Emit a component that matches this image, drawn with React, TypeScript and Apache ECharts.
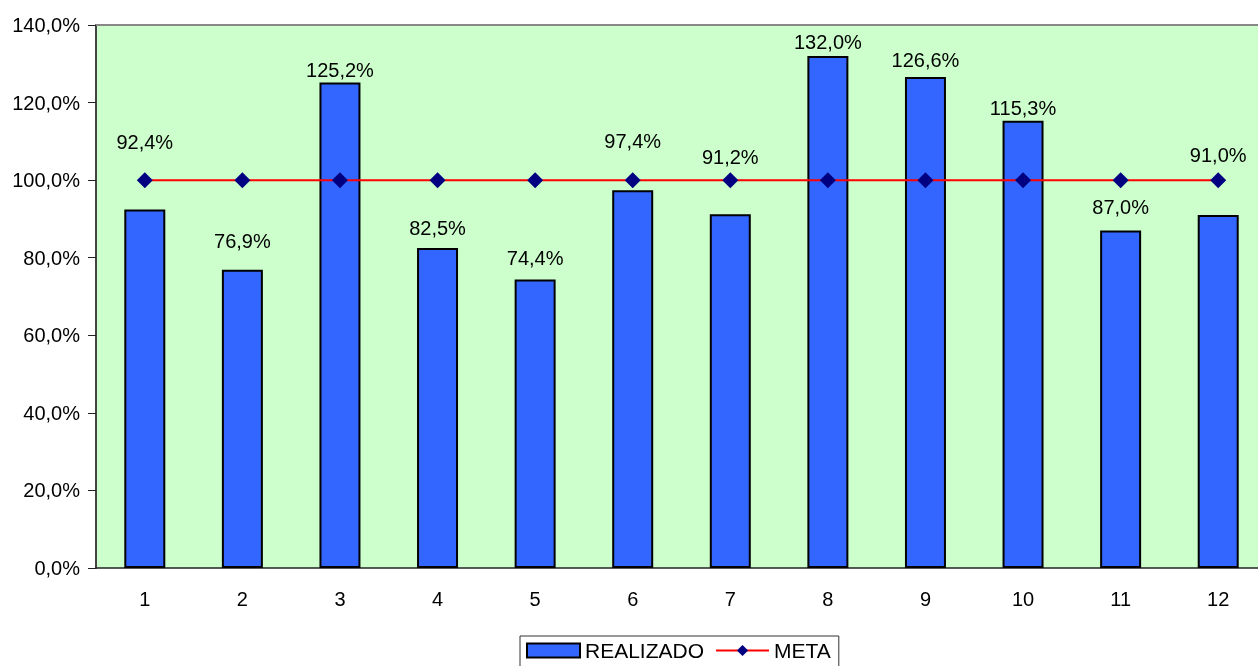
import React, { useEffect, useRef } from "react";
import * as echarts from "echarts";

// Monthly achievement vs. target (percent)
const months = ["1", "2", "3", "4", "5", "6", "7", "8", "9", "10", "11", "12"];
const realizado = [92.4, 76.9, 125.2, 82.5, 74.4, 97.4, 91.2, 132.0, 126.6, 115.3, 87.0, 91.0];
const meta = [100, 100, 100, 100, 100, 100, 100, 100, 100, 100, 100, 100];
const yTicks = { min: 0, max: 140, interval: 20 };

// Label spacing above each bar (px), keeps labels clear of the target line
const labelGap = [58, 19, 2, 10, 11, 39, 47, 4, 7, 3, 14, 50];

const fmt = (v: number) => v.toFixed(1).replace(".", ",") + "%";
const FONT = "Liberation Sans, Arial, sans-serif";

export default function App() {
  const ref = useRef<HTMLDivElement>(null);

  useEffect(() => {
    document.body.style.margin = "0";
    document.body.style.overflow = "hidden";
    const chart = echarts.init(ref.current!, undefined, { renderer: "svg" });
    chart.setOption({
      animation: false,
      textStyle: { fontFamily: FONT },
      grid: {
        left: 96,
        right: 0,
        top: 25,
        bottom: 98,
        show: true,
        backgroundColor: "#CCFFCC",
        borderWidth: 0,
      },
      legend: {
        top: 636,
        left: 520,
        padding: [4, 8, 6, 6],
        borderColor: "#333",
        borderWidth: 1,
        itemGap: 11,
        itemWidth: 53,
        itemHeight: 14,
        textStyle: { fontSize: 21, color: "#000", fontFamily: FONT },
        data: [
          { name: "REALIZADO", icon: "rect" },
          { name: "META" },
        ],
      },
      xAxis: {
        type: "category",
        data: months,
        axisLine: { lineStyle: { color: "#222", width: 1.5 } },
        axisTick: { length: 8, lineStyle: { color: "#222" } },
        axisLabel: { fontSize: 20, color: "#000", margin: 21, fontFamily: FONT },
      },
      yAxis: {
        type: "value",
        min: yTicks.min,
        max: yTicks.max,
        interval: yTicks.interval,
        axisLine: { show: true, lineStyle: { color: "#444", width: 2 } },
        axisTick: { show: true, length: 8, lineStyle: { color: "#222" } },
        splitLine: { show: false },
        axisLabel: {
          fontSize: 20,
          color: "#000",
          margin: 16,
          fontFamily: FONT,
          formatter: (v: number) => fmt(v),
        },
      },
      graphic: [
        {
          type: "line",
          shape: { x1: 96, y1: 25, x2: 1267, y2: 25 },
          style: { stroke: "#888", lineWidth: 2 },
          z: 10,
        },
      ],
      series: [
        {
          name: "REALIZADO",
          type: "bar",
          data: realizado.map((v, i) => ({
            value: v,
            label: { distance: labelGap[i] },
          })),
          barWidth: "42%",
          itemStyle: { color: "#3366FF", borderColor: "#000", borderWidth: 2 },
          label: {
            show: true,
            position: "top",
            fontSize: 20,
            color: "#000",
            fontFamily: FONT,
            formatter: (p: any) => fmt(p.value),
          },
        },
        {
          name: "META",
          type: "line",
          data: meta,
          symbol: "diamond",
          symbolSize: 16,
          lineStyle: { color: "#FF0000", width: 2 },
          itemStyle: { color: "#000080" },
          z: 5,
        },
      ],
    });
    return () => chart.dispose();
  }, []);

  return (
    <div
      ref={ref}
      style={{ position: "fixed", left: 0, top: 0, width: 1267, height: 666 }}
    />
  );
}
